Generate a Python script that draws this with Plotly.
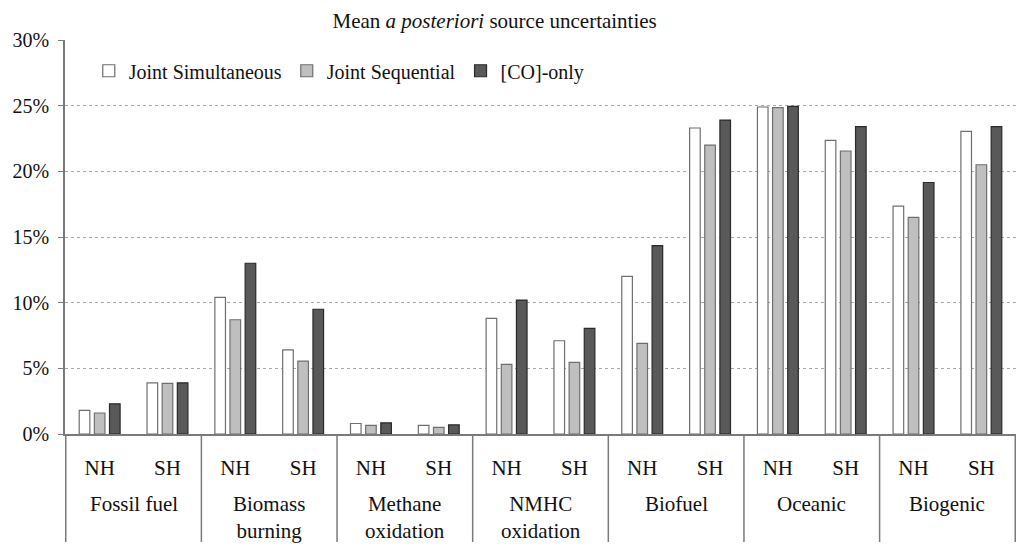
import plotly.graph_objects as go

categories = ["Fossil fuel", "Biomass<br>burning", "Methane<br>oxidation", "NMHC<br>oxidation",
              "Biofuel", "Oceanic", "Biogenic"]
hemispheres = ["NH", "SH"]

joint_simultaneous = [1.8, 3.9, 10.4, 6.4, 0.8, 0.65, 8.8, 7.1, 12.0, 23.3, 24.9, 22.35, 17.35, 23.05]
joint_sequential   = [1.6, 3.85, 8.7, 5.55, 0.65, 0.5, 5.3, 5.45, 6.9, 22.0, 24.85, 21.55, 16.5, 20.5]
co_only            = [2.3, 3.9, 13.0, 9.5, 0.85, 0.7, 10.2, 8.05, 14.35, 23.9, 24.95, 23.4, 19.15, 23.4]

series_names = ["Joint Simultaneous", "Joint Sequential", "[CO]-only"]
fills = ["#ffffff", "#bfbfbf", "#595959"]
edges = ["#6f6f6f", "#6f6f6f", "#2a2a2a"]

x_keys = [f"{c}|{h}" for c in categories for h in hemispheres]
x_text = [h for _ in categories for h in hemispheres]

FONT = "Times New Roman, Liberation Serif, serif"
TXT = "#111111"

fig = go.Figure()
for name, vals, fc, ec in zip(series_names, [joint_simultaneous, joint_sequential, co_only], fills, edges):
    fig.add_trace(go.Bar(
        x=x_keys, y=[v / 100 for v in vals], name=name,
        marker=dict(color=fc, line=dict(color=ec, width=1.2)),
    ))

# category labels and dividers
n_h = len(hemispheres)
for i, c in enumerate(categories):
    fig.add_annotation(x=i * n_h + (n_h - 1) / 2, xref="x", y=-0.143, yref="paper",
                       text=c, showarrow=False, yanchor="top", xanchor="center",
                       font=dict(family=FONT, size=21, color=TXT))
for i in range(len(categories) + 1):
    xp = i * n_h - 0.5
    fig.add_shape(type="line", xref="x", yref="paper", x0=xp, x1=xp, y0=0, y1=-0.274,
                  line=dict(color="#7a7a7a", width=1.5))

fig.update_layout(
    width=1016, height=544,
    paper_bgcolor="white", plot_bgcolor="white",
    margin=dict(l=57, r=8, t=32, b=118),
    barmode="group", bargap=0.33, bargroupgap=0.3,
    font=dict(family=FONT, size=20, color=TXT),
    title=dict(text="Mean <i>a posteriori</i> source uncertainties", x=0.479, xref="container",
               xanchor="center", y=0.991, yanchor="top",
               font=dict(family=FONT, size=21, color=TXT)),
    legend=dict(orientation="h", x=0.025, y=0.922, xanchor="left", yanchor="middle",
                bgcolor="rgba(0,0,0,0)", font=dict(family=FONT, size=20, color=TXT),
                itemwidth=30, traceorder="normal"),
    xaxis=dict(type="category", categoryorder="array", categoryarray=x_keys,
               tickmode="array", tickvals=x_keys, ticktext=x_text,
               showline=True, linecolor="#7a7a7a", linewidth=1.5,
               ticks="", ticklabelstandoff=14, showgrid=False, automargin=False,
               tickfont=dict(family=FONT, size=21, color=TXT)),
    yaxis=dict(range=[0, 0.30], tick0=0, dtick=0.05, tickformat=".0%",
               showline=True, linecolor="#7a7a7a", linewidth=1.5,
               ticks="outside", ticklen=5, tickcolor="#7a7a7a", ticklabelstandoff=5,
               showgrid=True, gridcolor="#a8a8a8", griddash="dot", gridwidth=1,
               automargin=False,
               tickfont=dict(family=FONT, size=20, color=TXT), zeroline=False),
)

fig.write_html("out.html")
